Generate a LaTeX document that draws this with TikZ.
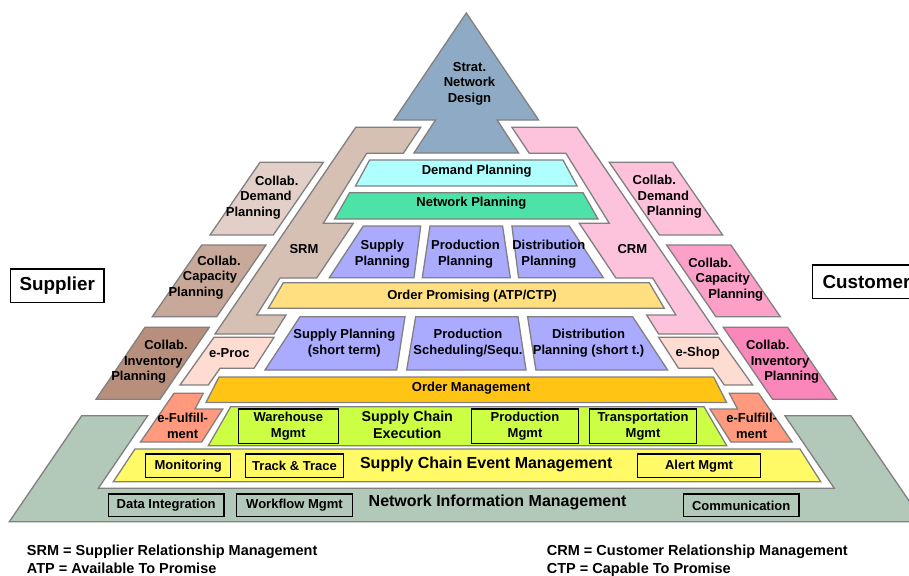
\documentclass[tikz,border=0pt]{standalone}
\usepackage{fontspec}
\setmainfont{Liberation Sans}
\definecolor{cArrow}{RGB}{143,170,196}
\definecolor{cSRM}{RGB}{214,192,180}
\definecolor{cCRM}{RGB}{253,194,220}
\definecolor{cDP}{RGB}{176,255,255}
\definecolor{cNP}{RGB}{77,227,168}
\definecolor{cLav}{RGB}{170,170,255}
\definecolor{cOP}{RGB}{255,223,127}
\definecolor{cOM}{RGB}{255,196,20}
\definecolor{cSCE}{RGB}{204,255,68}
\definecolor{cSCEM}{RGB}{255,250,102}
\definecolor{cNIM}{RGB}{178,200,184}
\definecolor{cEF}{RGB}{255,154,126}
\definecolor{cEP}{RGB}{255,220,210}
\definecolor{cLCD}{RGB}{226,208,200}
\definecolor{cLCC}{RGB}{200,168,152}
\definecolor{cLCI}{RGB}{184,142,124}
\definecolor{cRCD}{RGB}{255,192,218}
\definecolor{cRCC}{RGB}{252,160,200}
\definecolor{cRCI}{RGB}{250,134,186}
\definecolor{cLine}{RGB}{128,128,128}
\newcommand{\mvx}[2]{\hspace*{#1pt}#2\hspace*{-#1pt}}
\begin{document}
\begin{tikzpicture}[x=1pt,y=-1pt,
  lay/.style={draw=cLine, line width=1.3pt, line join=miter},
  lbl/.style={font=\fontsize{13}{15.5}\selectfont\bfseries, align=center, inner sep=0pt},
  big/.style={font=\fontsize{16}{18}\selectfont\bfseries, align=center, inner sep=0pt},
  ibox/.style={draw=black, line width=1.4pt, font=\fontsize{13}{15.5}\selectfont\bfseries, align=center, inner sep=0pt},
  sidebox/.style={draw=black, line width=1.4pt, font=\fontsize{18.8}{21}\selectfont\bfseries, inner sep=0pt, minimum height=33.3pt},
  leg/.style={font=\fontsize{14.5}{17}\selectfont\bfseries, inner sep=0pt, anchor=base west}]
\useasboundingbox (0,0) rectangle (909,575);
\clip (0,0) rectangle (909,575);
\fill[white] (0,0) rectangle (909,575);

% base layer
\draw[lay, fill=cNIM] (81.7,415.7) -- (147.7,415.7) -- (98.3,488.3) -- (834.3,488.3) -- (784.9,415.7) -- (850.9,415.7) -- (923.3,521.7) -- (9.3,521.7) -- cycle;

% strategic arrow
\draw[lay, fill=cArrow] (466.3,13) -- (538.6,120) -- (497.1,120) -- (518.6,153) -- (414,153) -- (435.5,120) -- (394,120) -- cycle;

% left side shapes
\draw[lay, fill=cSRM] (355.7,127.3) -- (420.7,127.3) -- (403.3,153.3) -- (366.7,153.3) -- (323.3,223.3) -- (353.3,223.3) -- (316.7,278) -- (280,278) -- (256.7,315) -- (286,315) -- (274,334) -- (215,334) -- cycle;
\draw[lay, fill=cEP] (214,337.3) -- (274,337.3) -- (254,368.3) -- (220,368.3) -- (208.3,385) -- (180,385) -- cycle;
\draw[lay, fill=cEF] (174,393.3) -- (203.3,393.3) -- (195,409) -- (222.7,409) -- (201.7,442) -- (140.5,442) -- cycle;
\draw[lay, fill=cLCD] (260,162.3) -- (323.3,162.3) -- (273.3,235) -- (210,235) -- cycle;
\draw[lay, fill=cLCC] (201.7,245) -- (266,245) -- (216.7,316.7) -- (152.3,316.7) -- cycle;
\draw[lay, fill=cLCI] (145,327.3) -- (209.3,327.3) -- (160,399.3) -- (96,399.3) -- cycle;

% right side shapes (mirror)
\begin{scope}[shift={(932.6,0)}, xscale=-1]
\draw[lay, fill=cCRM] (355.7,127.3) -- (420.7,127.3) -- (403.3,153.3) -- (366.7,153.3) -- (323.3,223.3) -- (353.3,223.3) -- (316.7,278) -- (280,278) -- (256.7,315) -- (286,315) -- (274,334) -- (215,334) -- cycle;
\draw[lay, fill=cEP] (214,337.3) -- (274,337.3) -- (254,368.3) -- (220,368.3) -- (208.3,385) -- (180,385) -- cycle;
\draw[lay, fill=cEF] (174,393.3) -- (203.3,393.3) -- (195,409) -- (222.7,409) -- (201.7,442) -- (140.5,442) -- cycle;
\draw[lay, fill=cRCD] (260,162.3) -- (323.3,162.3) -- (273.3,235) -- (210,235) -- cycle;
\draw[lay, fill=cRCC] (201.7,245) -- (266,245) -- (216.7,316.7) -- (152.3,316.7) -- cycle;
\draw[lay, fill=cRCI] (145,327.3) -- (209.3,327.3) -- (160,399.3) -- (96,399.3) -- cycle;
\end{scope}

% pyramid layers
\draw[lay, fill=cDP] (369.6,160) -- (563,160) -- (577.1,186) -- (355.5,186) -- cycle;
\draw[lay, fill=cNP] (349.6,192.7) -- (583,192.7) -- (598,219) -- (334.6,219) -- cycle;
\draw[lay, fill=cLav] (363.3,226) -- (420.7,226) -- (414,277.7) -- (329.3,277.7) -- cycle;
\draw[lay, fill=cLav] (430,226) -- (502.6,226) -- (510.3,277.7) -- (422.3,277.7) -- cycle;
\draw[lay, fill=cLav] (511.9,226) -- (569.3,226) -- (603.3,277.7) -- (518.6,277.7) -- cycle;
\draw[lay, fill=cOP] (283.3,282.7) -- (649.3,282.7) -- (664.3,308.3) -- (268.3,308.3) -- cycle;
\draw[lay, fill=cLav] (300,316.7) -- (405,316.7) -- (396.7,370) -- (265,370) -- cycle;
\draw[lay, fill=cLav] (415.7,316.7) -- (518,316.7) -- (526,370) -- (406.7,370) -- cycle;
\draw[lay, fill=cLav] (527.6,316.7) -- (632.6,316.7) -- (667.6,370) -- (535.9,370) -- cycle;
\draw[lay, fill=cOM] (219,377) -- (713.6,377) -- (726.6,402.5) -- (206,402.5) -- cycle;
\draw[lay, fill=cSCE] (230.7,406.7) -- (704,406.7) -- (726.7,445.7) -- (208.3,445.7) -- cycle;
\draw[lay, fill=cSCEM] (135,449) -- (800,449) -- (820.7,481.7) -- (113.3,481.7) -- cycle;

% labels
\node[lbl] (strat) at (469.5,83.5) {Strat.\\Network\\Design};
\node[lbl] (dpl) at (476.7,170.7) {Demand Planning};
\node[lbl] (npl) at (471.3,203.3) {Network Planning};
\node[lbl] (spl) at (382.3,254) {Supply\\Planning};
\node[lbl] (ppl) at (465.5,254) {Production\\Planning};
\node[lbl] (dipl) at (548.8,254) {Distribution\\Planning};
\node[lbl] (opl) at (472,295.7) {Order Promising (ATP/CTP)};
\node[lbl] (sps) at (344.3,343) {Supply Planning\\(short term)};
\node[lbl] (pss) at (468,343) {Production\\Scheduling/Sequ.};
\node[lbl] (dss) at (588.5,343) {Distribution\\Planning (short t.)};
\node[lbl] (oml) at (471.2,387.7) {Order Management};
\node[lbl] (srm) at (304,249.3) {SRM};
\node[lbl] (crm) at (632.3,249.3) {CRM};
\node[lbl] (eproc) at (229.3,353.3) {e-Proc};
\node[lbl] (eshop) at (697.7,353.3) {e-Shop};
\node[lbl] (efl) at (182.7,425.8) {e-Fulfill-\\ment};
\node[lbl] (efr) at (751.7,425.8) {e-Fulfill-\\ment};
\node[lbl] (lcd) at (266,197.3) {\mvx{10.7}{Collab.}\\Demand\\\mvx{-12.7}{Planning}};
\node[lbl] (lcc) at (210,277.3) {\mvx{9}{Collab.}\\Capacity\\\mvx{-14}{Planning}};
\node[lbl] (lci) at (153.3,361.7) {\mvx{12.7}{Collab.}\\Inventory\\\mvx{-14.6}{Planning}};
\node[lbl] (rcd) at (663.3,196.7) {\mvx{-9}{Collab.}\\Demand\\\mvx{11}{Planning}};
\node[lbl] (rcc) at (722.7,279.3) {\mvx{-12.7}{Collab.}\\Capacity\\\mvx{13}{Planning}};
\node[lbl] (rci) at (780,361.7) {\mvx{-12.3}{Collab.}\\Inventory\\\mvx{11.7}{Planning}};

\node[font=\fontsize{14.3}{16.5}\selectfont\bfseries, align=center, inner sep=0pt] (sce) at (407.3,425) {Supply Chain\\Execution};
\node[big] (scem) at (486.3,464.5) {Supply Chain Event Management};
\node[big] (nim) at (497.6,502.3) {Network Information Management};

% inner boxes
\node[ibox, minimum width=100pt, minimum height=34.3pt] (wh) at (288.3,426.2) {Warehouse\\Mgmt};
\node[ibox, minimum width=106.6pt, minimum height=34.3pt] (pm) at (525,426.2) {Production\\Mgmt};
\node[ibox, minimum width=107.4pt, minimum height=34.3pt] (tm) at (643,426.2) {Transportation\\Mgmt};
\node[ibox, minimum width=85pt, minimum height=23.3pt] (mon) at (188.2,465.7) {Monitoring};
\node[ibox, minimum width=97.6pt, minimum height=23.3pt] (tt) at (294.5,465.7) {Track \& Trace};
\node[ibox, minimum width=123.4pt, minimum height=23.3pt] (am) at (699,465.7) {Alert Mgmt};
\node[ibox, minimum width=115.7pt, minimum height=22.7pt] (di) at (166.2,505.4) {Data Integration};
\node[ibox, minimum width=115.6pt, minimum height=22.7pt] (wf) at (294.5,505.4) {Workflow Mgmt};
\node[ibox, minimum width=115.7pt, minimum height=22.7pt] (com) at (741.2,505.4) {Communication};

% side boxes
\node[sidebox, minimum width=93.3pt] (sup) at (57.3,285.7) {Supplier};
\node[sidebox, minimum width=107.7pt] (cust) at (866.5,281.7) {Customer};

% legend
\node[leg] (l1) at (26.7,555.7) {SRM = Supplier Relationship Management};
\node[leg] (l2) at (26.7,573.3) {ATP = Available To Promise};
\node[leg] (l3) at (546.7,555.7) {CRM = Customer Relationship Management};
\node[leg] (l4) at (546.7,573.3) {CTP = Capable To Promise};
\end{tikzpicture}
\end{document}
